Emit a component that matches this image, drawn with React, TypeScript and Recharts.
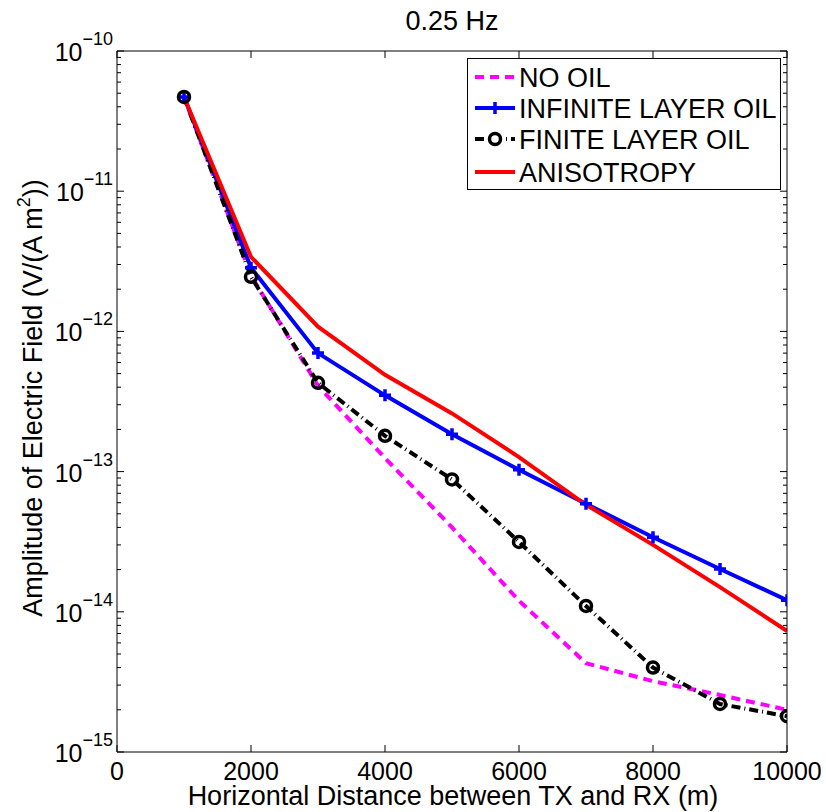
import React from 'react';
import { LineChart, Line, XAxis, YAxis } from 'recharts';

// distances (m) between TX and RX
const distances = [1000, 2000, 3000, 4000, 5000, 6000, 7000, 8000, 9000, 10000];

// amplitudes, V/(A m^2)
const noOil = [4.7e-11, 2.5e-12, 4.1e-13, 1.25e-13, 4.0e-14, 1.2e-14, 4.3e-15, 3.2e-15, 2.55e-15, 2.0e-15];
const infiniteLayerOil = [4.7e-11, 2.85e-12, 7.0e-13, 3.5e-13, 1.85e-13, 1.03e-13, 5.9e-14, 3.4e-14, 2.02e-14, 1.21e-14];
const finiteLayerOil = [4.7e-11, 2.45e-12, 4.3e-13, 1.8e-13, 8.8e-14, 3.15e-14, 1.1e-14, 4.0e-15, 2.2e-15, 1.8e-15];
const anisotropy = [4.7e-11, 3.4e-12, 1.08e-12, 4.9e-13, 2.6e-13, 1.27e-13, 5.8e-14, 3.0e-14, 1.5e-14, 7.3e-15];

const xTicks = [0, 2000, 4000, 6000, 8000, 10000];
const decadeExponents = [-15, -14, -13, -12, -11, -10];
const minorMultipliers = [2, 3, 4, 5, 6, 7, 8, 9];

const yTicks: number[] = [];
decadeExponents.forEach((e) => {
  yTicks.push(Math.pow(10, e));
  if (e < -10) minorMultipliers.forEach((m) => yTicks.push(Number((m * Math.pow(10, e)).toPrecision(3))));
});

const data = distances.map((d, i) => ({
  x: d,
  noOil: noOil[i],
  infinite: infiniteLayerOil[i],
  finite: finiteLayerOil[i],
  aniso: anisotropy[i],
}));

const FONT = '"Liberation Sans", Arial, Helvetica, sans-serif';

const isDecade = (v: number) => {
  const l = Math.log10(v);
  return Math.abs(l - Math.round(l)) < 1e-6;
};

const LeftTick = (props: any) => {
  const { x, y, payload } = props;
  const major = isDecade(payload.value);
  const exp = Math.round(Math.log10(payload.value));
  return (
    <g>
      <line x1={x} x2={x + (major ? 7 : 4)} y1={y} y2={y} stroke="#000" strokeWidth={1} />
      {major && (
        <text x={x - 4} y={y + 10} textAnchor="end" fontFamily={FONT} fontSize={25} fill="#000">
          10
          <tspan dy={-16} fontSize={18}>{'\u2212' + String(-exp)}</tspan>
        </text>
      )}
    </g>
  );
};

const RightTick = (props: any) => {
  const { x, y, payload } = props;
  const major = isDecade(payload.value);
  return <line x1={x} x2={x - (major ? 7 : 4)} y1={y} y2={y} stroke="#000" strokeWidth={1} />;
};

const BottomTick = (props: any) => {
  const { x, y, payload } = props;
  return (
    <g>
      <line x1={x} x2={x} y1={y} y2={y - 7} stroke="#000" strokeWidth={1} />
      <text x={x} y={y + 28} textAnchor="middle" fontFamily={FONT} fontSize={25} fill="#000">
        {payload.value}
      </text>
    </g>
  );
};

const TopTick = (props: any) => {
  const { x, y } = props;
  return <line x1={x} x2={x} y1={y} y2={y + 7} stroke="#000" strokeWidth={1} />;
};

const ChartTitle = () => (
  <text x={452} y={30} textAnchor="middle" fontFamily={FONT} fontSize={27} fill="#000">
    0.25 Hz
  </text>
);

const XTitle = () => (
  <text x={453} y={805} textAnchor="middle" fontFamily={FONT} fontSize={27} fill="#000">
    Horizontal Distance between TX and RX (m)
  </text>
);

const YTitle = () => (
  <text
    x={42}
    y={398}
    transform="rotate(-90, 42, 398)"
    textAnchor="middle"
    fontFamily={FONT}
    fontSize={27}
    fill="#000"
  >
    Amplitude of Electric Field (V/(A m
    <tspan dy={-12} fontSize={18}>2</tspan>
    <tspan dy={12}>))</tspan>
  </text>
);

const PlusDot = (p: any) => {
  const { cx, cy, index } = p;
  return (
    <path
      key={'p' + index}
      d={`M${cx - 6},${cy}H${cx + 6}M${cx},${cy - 6}V${cy + 6}`}
      stroke="#0000ff"
      strokeWidth={3.5}
      fill="none"
    />
  );
};

const CircleDot = (p: any) => {
  const { cx, cy, index } = p;
  return <circle key={'c' + index} cx={cx} cy={cy} r={5.5} stroke="#000" strokeWidth={3.5} fill="none" />;
};

const legendRows = [
  { label: 'NO OIL', color: '#ff00ff', dash: '9 6', marker: 'none' },
  { label: 'INFINITE LAYER OIL', color: '#0000ff', dash: undefined, marker: 'plus' },
  { label: 'FINITE LAYER OIL', color: '#000000', dash: '9 4 1 4', marker: 'circle' },
  { label: 'ANISOTROPY', color: '#ff0000', dash: undefined, marker: 'none' },
];
const legendRowY = [19, 50, 81, 114];

const LegendBox = () => (
  <svg
    width={314}
    height={132}
    style={{ position: 'absolute', left: 467, top: 58, background: '#fff' }}
  >
    <rect x={0.5} y={0.5} width={313} height={131} fill="#fff" stroke="#000" strokeWidth={1} />
    {legendRows.map((r, i) => {
      const cy = legendRowY[i];
      return (
        <g key={r.label}>
          <line x1={8} x2={48} y1={cy} y2={cy} stroke={r.color} strokeWidth={4} strokeDasharray={r.dash} />
          {r.marker === 'plus' && (
            <path d={`M22,${cy}H34M28,${cy - 6}V${cy + 6}`} stroke={r.color} strokeWidth={3.5} />
          )}
          {r.marker === 'circle' && <circle cx={28} cy={cy} r={5.5} stroke="#000" strokeWidth={3.5} fill="#fff" />}
          <text x={52} y={cy + 10} fontFamily={FONT} fontSize={27} fill="#000">
            {r.label}
          </text>
        </g>
      );
    })}
  </svg>
);

export default function App() {
  return (
    <div style={{ position: 'absolute', left: 0, top: 0, width: 826, height: 812, background: '#fff' }}>
      <LineChart
        width={826}
        height={812}
        data={data}
        margin={{ top: 50, right: 38, bottom: 20, left: 37 }}
      >
        <XAxis
          xAxisId="bottom"
          dataKey="x"
          type="number"
          domain={[0, 10000]}
          ticks={xTicks}
          interval={0}
          allowDataOverflow
          tickSize={0}
          tickMargin={0}
          tickLine={false}
          tick={<BottomTick />}
          axisLine={{ stroke: '#000', strokeWidth: 1 }}
          height={40}
          label={<XTitle />}
        />
        <XAxis
          xAxisId="top"
          orientation="top"
          dataKey="x"
          type="number"
          domain={[0, 10000]}
          ticks={xTicks}
          interval={0}
          allowDataOverflow
          tickSize={0}
          tickMargin={0}
          tickLine={false}
          tick={<TopTick />}
          axisLine={{ stroke: '#000', strokeWidth: 1 }}
          height={1}
          label={<ChartTitle />}
        />
        <YAxis
          yAxisId="left"
          type="number"
          scale="log"
          domain={[1e-15, 1e-10]}
          ticks={yTicks}
          interval={0}
          allowDataOverflow
          tickSize={0}
          tickMargin={0}
          tickLine={false}
          tick={<LeftTick />}
          axisLine={{ stroke: '#000', strokeWidth: 1 }}
          width={80}
          label={<YTitle />}
        />
        <YAxis
          yAxisId="right"
          orientation="right"
          type="number"
          scale="log"
          domain={[1e-15, 1e-10]}
          ticks={yTicks}
          interval={0}
          allowDataOverflow
          tickSize={0}
          tickMargin={0}
          tickLine={false}
          tick={<RightTick />}
          axisLine={{ stroke: '#000', strokeWidth: 1 }}
          width={1}
        />
        <Line
          xAxisId="bottom"
          yAxisId="left"
          dataKey="noOil"
          type="linear"
          stroke="#ff00ff"
          strokeWidth={4}
          strokeDasharray="9 6"
          dot={false}
          activeDot={false}
          isAnimationActive={false}
        />
        <Line
          xAxisId="bottom"
          yAxisId="left"
          dataKey="infinite"
          type="linear"
          stroke="#0000ff"
          strokeWidth={4}
          dot={PlusDot}
          activeDot={false}
          isAnimationActive={false}
        />
        <Line
          xAxisId="bottom"
          yAxisId="left"
          dataKey="finite"
          type="linear"
          stroke="#000000"
          strokeWidth={4}
          strokeDasharray="9 4 1 4"
          dot={CircleDot}
          activeDot={false}
          isAnimationActive={false}
        />
        <Line
          xAxisId="bottom"
          yAxisId="left"
          dataKey="aniso"
          type="linear"
          stroke="#ff0000"
          strokeWidth={4}
          dot={false}
          activeDot={false}
          isAnimationActive={false}
        />
      </LineChart>
      <LegendBox />
    </div>
  );
}
